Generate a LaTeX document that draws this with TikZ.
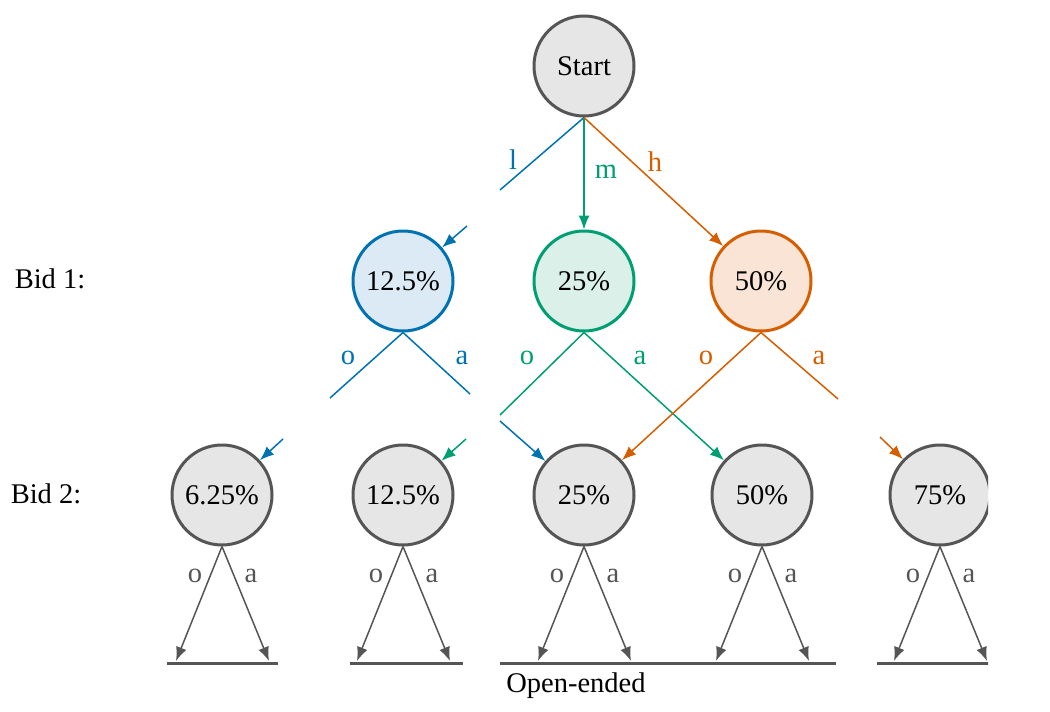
\documentclass[tikz,border=0pt]{standalone}
\usepackage{fontspec}
\setmainfont{Liberation Serif}
\usetikzlibrary{arrows.meta}
\definecolor{cblue}{HTML}{0072B2}
\definecolor{cgreen}{HTML}{009E73}
\definecolor{corange}{HTML}{D55E00}
\definecolor{fblue}{HTML}{DCEAF5}
\definecolor{fgreen}{HTML}{DBF0E9}
\definecolor{forange}{HTML}{FAE4D6}
\definecolor{gstroke}{HTML}{555555}
\definecolor{gfill}{HTML}{E6E6E6}
\begin{document}
\begin{tikzpicture}[x=1pt,y=-1pt,
  txt/.style={font=\fontsize{28.5}{34}\selectfont, inner sep=0pt},
  circ/.style={circle, minimum size=100pt, inner sep=0pt, line width=3pt, txt},
  gnode/.style={circ, draw=gstroke, fill=gfill},
  bnode/.style={circ, draw=cblue, fill=fblue},
  grnode/.style={circ, draw=cgreen, fill=fgreen},
  onode/.style={circ, draw=corange, fill=forange},
  conn/.style={line width=1.5pt},
  arr/.style={conn, -{Latex[length=14pt,width=11pt]}},
  base/.style={line width=3pt, draw=gstroke},
  lbl/.style={txt}
]
\useasboundingbox (0,0) rectangle (1050,712);
\begin{scope}
\clip (0,0) rectangle (988,712);
% nodes
\node[gnode] (S) at (584,66) {Start};
\node[bnode] (B1a) at (403,281) {12.5\%};
\node[grnode] (B1b) at (584,281) {25\%};
\node[onode] (B1c) at (761,281) {50\%};
\node[gnode] (B2a) at (222,495) {6.25\%};
\node[gnode] (B2b) at (403,495) {12.5\%};
\node[gnode] (B2c) at (584,495) {25\%};
\node[gnode] (B2d) at (762,495) {50\%};
\node[gnode] (B2e) at (940,495) {75\%};
% free ends
\coordinate (l1) at (500,190);
\coordinate (l2) at (467,226);
\coordinate (ao) at (330,398);
\coordinate (aa) at (470,394);
\coordinate (go) at (500,415);
\coordinate (oa) at (838,399);
\coordinate (f1) at (283,439);
\coordinate (f2) at (466,439);
\coordinate (f3) at (500,421);
\coordinate (f4) at (880,437);
% top edges
\draw[conn, cblue] (S.south) -- (l1);
\draw[arr, cblue] (l2) -- (B1a);
\draw[arr, cgreen] (S.south) -- (B1b);
\draw[arr, corange] (S.south) -- (B1c);
\node[lbl, text=cblue] (tl) at (513,160) {l};
\node[lbl, text=cgreen] (tm) at (606,172) {m};
\node[lbl, text=corange] (th) at (655,162) {h};
% bid 1 edges
\draw[conn, cblue] (B1a.south) -- (ao);
\draw[conn, cblue] (B1a.south) -- (aa);
\draw[conn, cgreen] (B1b.south) -- (go);
\draw[arr, cgreen] (B1b.south) -- (B2d);
\draw[arr, corange] (B1c.south) -- (B2c);
\draw[conn, corange] (B1c.south) -- (oa);
\draw[arr, cblue] (f1) -- (B2a);
\draw[arr, cgreen] (f2) -- (B2b);
\draw[arr, cblue] (f3) -- (B2c);
\draw[arr, corange] (f4) -- (B2e);
\node[lbl, text=cblue] (lo1) at (348,358) {o};
\node[lbl, text=cblue] (la1) at (462,358) {a};
\node[lbl, text=cgreen] (lo2) at (527,358) {o};
\node[lbl, text=cgreen] (la2) at (640,358) {a};
\node[lbl, text=corange] (lo3) at (706,358) {o};
\node[lbl, text=corange] (la3) at (819,358) {a};
% bid 2 edges
\foreach \n/\x in {B2a/222,B2b/403,B2c/584,B2d/762,B2e/940}{
  \coordinate (\n-o) at (\x-46,661);
  \coordinate (\n-a) at (\x+47,661);
  \draw[arr, gstroke] (\n.south) -- (\n-o);
  \draw[arr, gstroke] (\n.south) -- (\n-a);
  \node[lbl, text=gstroke] at (\x-27,576) {o};
  \node[lbl, text=gstroke] at (\x+29,576) {a};
}
\draw[base] (167,663) -- (278,663);
\draw[base] (350,663) -- (463,663);
\draw[base] (500,663) -- (836,663);
\draw[base] (877,663) -- (990,663);
\end{scope}
\node[txt] (bid1) at (50,279) {Bid 1:};
\node[txt] (bid2) at (46,494) {Bid 2:};
\node[txt] (open) at (576,686) {Open-ended};
\end{tikzpicture}
\end{document}
